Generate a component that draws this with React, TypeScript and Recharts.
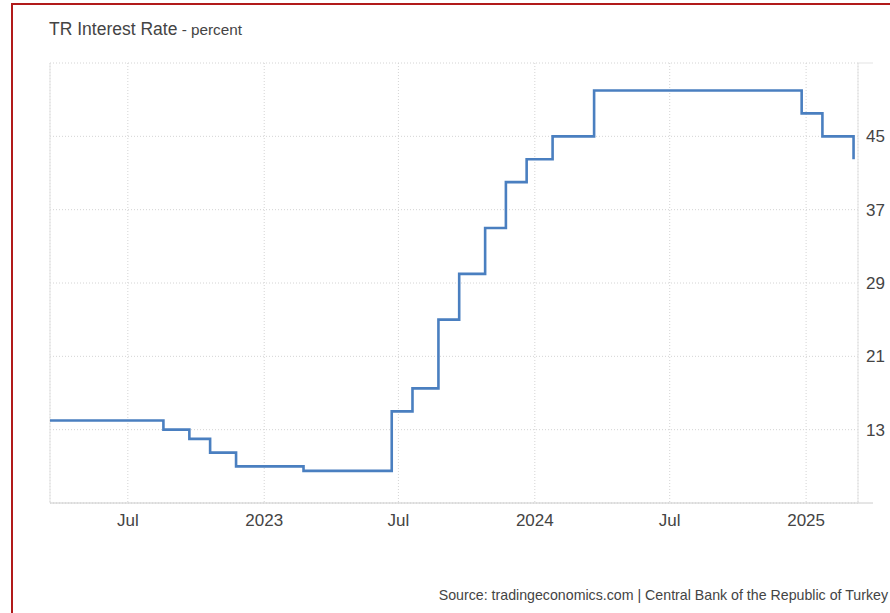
import { CartesianGrid, Line, LineChart, ReferenceLine, XAxis, YAxis } from "recharts"

// policy rate decisions (date the new rate starts, percent)
const decisionDates = [
 "2022-03-18", "2022-08-18", "2022-09-22", "2022-10-20", "2022-11-24",
 "2023-02-23", "2023-06-22", "2023-07-20", "2023-08-24", "2023-09-21",
 "2023-10-26", "2023-11-23", "2023-12-21", "2024-01-25", "2024-03-21",
 "2024-12-26", "2025-01-23", "2025-03-06",
]
const rates = [14, 13, 12, 10.5, 9, 8.5, 15, 17.5, 25, 30, 35, 40, 42.5, 45, 50, 47.5, 45, 42.5]

const xTickDates = ["2022-07-01", "2023-01-01", "2023-07-01", "2024-01-01", "2024-07-01", "2025-01-01"]
const xTickLabels = ["Jul", "2023", "Jul", "2024", "Jul", "2025"]
const yTicks = [5, 13, 21, 29, 37, 45, 53]
const xStart = "2022-03-18"
const xEnd = "2025-03-12"

const ts = (d: string) => new Date(d + "T00:00:00Z").getTime()

const chartData = decisionDates.map((d, i) => ({ t: ts(d), rate: rates[i] }))
const xTicks = xTickDates.map(ts)

const FONT = "'Liberation Sans', Arial, sans-serif"

const YTick = (props: any) => {
 const { x, y, payload } = props
 const v = payload.value
 if (v === yTicks[0] || v === yTicks[yTicks.length - 1]) {
  return <line x1={x - 8} x2={x + 7} y1={y} y2={y} stroke={v === yTicks[0] ? "#ccc" : "#e3e3e3"} />
 }
 return (
  <text x={x} y={y} dy="0.36em" textAnchor="start" fill="#444" fontSize={17} fontFamily={FONT}>
   {v}
  </text>
 )
}

export default function App() {
 return (
  <div
   style={{
    position: "absolute", left: 0, top: 0, width: 890, height: 613,
    overflow: "hidden", background: "#fff", fontFamily: FONT,
   }}
  >
   <div
    style={{
     position: "absolute", left: 11, top: 3, width: 900, height: 700,
     border: "2px solid #b11a1a", boxSizing: "border-box",
    }}
   />
   <div style={{ position: "absolute", left: 49, top: 19, whiteSpace: "nowrap", color: "#444" }}>
    <span style={{ fontSize: 17.5 }}>TR Interest Rate</span>
    <span style={{ fontSize: 15.3 }}> - percent</span>
   </div>
   <div style={{ position: "absolute", left: 0, top: 0 }}>
    <LineChart width={890} height={613} data={chartData} margin={{ top: 63, left: 50, right: 0, bottom: 80 }}>
     <CartesianGrid stroke="#d4d4d4" strokeDasharray="1 2" />
     <XAxis
      dataKey="t"
      type="number"
      domain={[ts(xStart), ts(xEnd)]}
      allowDataOverflow
      ticks={xTicks}
      tickFormatter={(v: number) => xTickLabels[xTicks.indexOf(v)]}
      height={30}
      tickLine={false}
      tickMargin={5}
      axisLine={{ stroke: "#ccc" }}
      tick={{ fill: "#444", fontSize: 17, fontFamily: FONT }}
     />
     <YAxis
      orientation="right"
      type="number"
      domain={[5, 53]}
      ticks={yTicks}
      interval={0}
      width={32}
      tickLine={false}
      axisLine={{ stroke: "#e3e3e3" }}
      tick={<YTick />}
     />
     <ReferenceLine x={ts(xStart)} stroke="#e3e3e3" />
     <Line
      type="stepAfter"
      dataKey="rate"
      stroke="#4a7fc0"
      strokeWidth={2.6}
      dot={false}
      activeDot={false}
      isAnimationActive={false}
     />
    </LineChart>
   </div>
   <div style={{ position: "absolute", right: 2, top: 587, fontSize: 14.2, color: "#444", whiteSpace: "nowrap" }}>
    Source: tradingeconomics.com | Central Bank of the Republic of Turkey
   </div>
  </div>
 )
}
